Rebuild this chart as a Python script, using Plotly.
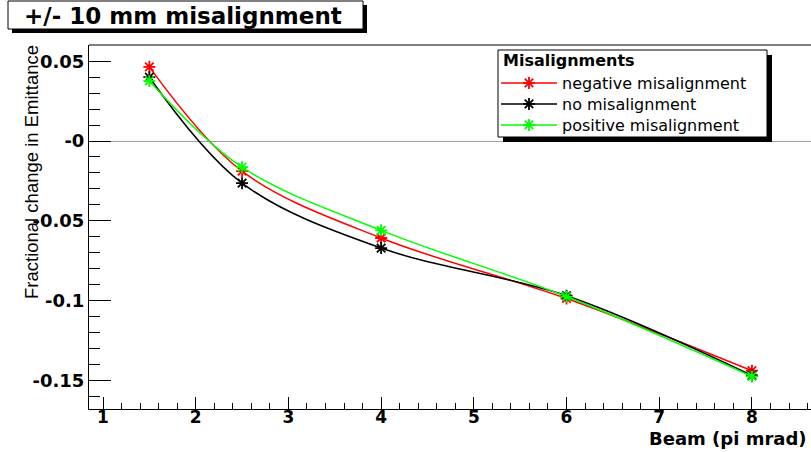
import plotly.graph_objects as go

# ---- data ----
beam = [1.5, 2.5, 4, 6, 8]
negative_mis = [0.0465, -0.0189, -0.0608, -0.0987, -0.1440]
no_mis = [0.0400, -0.0264, -0.0671, -0.0970, -0.1470]
positive_mis = [0.0377, -0.0164, -0.0560, -0.0975, -0.1476]
series_names = ["negative misalignment", "no misalignment", "positive misalignment"]
series_colors = ["#ff0000", "#000000", "#00ff00"]
y_tick_vals = [0.05, 0, -0.05, -0.1, -0.15]
y_tick_text = ["0.05", "-0", "-0.05", "-0.1", "-0.15"]
x_tick_vals = [1, 2, 3, 4, 5, 6, 7, 8]

W, H = 811, 452
L, R, T, B = 89, 0, 45, 43
PW, PH = W - L - R, H - T - B


def px(x):
    return (x - L) / PW


def py(y):
    return (H - B - y) / PH


legend_ids = ["legend", "legend2", "legend3"]
legend_rows = [83, 104, 125]

fig = go.Figure()
for name, ys, col, lg in zip(series_names, [negative_mis, no_mis, positive_mis], series_colors, legend_ids):
    fig.add_trace(go.Scatter(
        x=beam, y=ys, name=name, mode="lines+markers", legend=lg,
        line=dict(color=col, width=1.5, shape="spline", smoothing=1),
        marker=dict(symbol="asterisk", size=10, color=col, line=dict(color=col, width=1.8)),
    ))

layout_legends = {}
for lg, row in zip(legend_ids, legend_rows):
    layout_legends[lg] = dict(
        x=px(496), y=py(row), xanchor="left", yanchor="middle",
        bgcolor="rgba(0,0,0,0)", borderwidth=0,
        font=dict(family="DejaVu Sans", size=16, color="black"),
        itemwidth=56,
    )

fig.update_layout(
    width=W, height=H,
    margin=dict(l=L, r=R, t=T, b=B, pad=0, autoexpand=False),
    paper_bgcolor="white", plot_bgcolor="white",
    showlegend=True,
    xaxis=dict(
        range=[0.849, 8.637], showgrid=False, zeroline=False, automargin=False,
        showline=True, linecolor="black", linewidth=1,
        tickmode="array", tickvals=x_tick_vals,
        ticks="inside", ticklen=12, tickcolor="black", tickwidth=1,
        ticklabelstandoff=-7,
        tickfont=dict(family="DejaVu Sans", size=17, color="black", weight="bold"),
        minor=dict(ticks="inside", ticklen=6, dtick=0.2, tick0=1, tickcolor="black", showgrid=False),
    ),
    yaxis=dict(
        range=[-0.168, 0.0602], showgrid=False, automargin=False,
        zeroline=True, zerolinecolor="#a0a0a0", zerolinewidth=1,
        showline=True, linecolor="black", linewidth=1,
        tickmode="array", tickvals=y_tick_vals, ticktext=y_tick_text,
        ticks="inside", ticklen=22, tickcolor="black", tickwidth=1,
        tickfont=dict(family="DejaVu Sans", size=18, color="black", weight="bold"),
        minor=dict(ticks="inside", ticklen=11, dtick=0.01, tick0=0, tickcolor="black", showgrid=False),
    ),
    **layout_legends,
)

shapes = [
    # top frame line
    dict(type="line", xref="paper", yref="paper", x0=0, x1=1, y0=1, y1=1,
         line=dict(color="black", width=1)),
    # title box shadow + box
    dict(type="rect", xref="paper", yref="paper", x0=px(12), x1=px(367), y0=py(33), y1=py(5),
         fillcolor="black", line=dict(width=0)),
    dict(type="rect", xref="paper", yref="paper", x0=px(8), x1=px(363), y0=py(29), y1=py(1),
         fillcolor="white", line=dict(color="black", width=1)),
    # legend box shadow + box
    dict(type="rect", xref="paper", yref="paper", x0=px(503), x1=px(772), y0=py(142), y1=py(55),
         fillcolor="black", line=dict(width=0)),
    dict(type="rect", xref="paper", yref="paper", x0=px(498), x1=px(767), y0=py(137), y1=py(50),
         fillcolor="white", line=dict(color="black", width=1)),
]
fig.update_layout(shapes=shapes)

fig.add_annotation(text="<b>+/- 10 mm misalignment</b>", xref="paper", yref="paper",
                   x=px(183), y=py(16), xanchor="center", yanchor="middle", showarrow=False,
                   font=dict(family="DejaVu Sans", size=23, color="black"))
fig.add_annotation(text="<b>Misalignments</b>", xref="paper", yref="paper",
                   x=px(501), y=py(61), xanchor="left", yanchor="middle", showarrow=False,
                   font=dict(family="DejaVu Sans", size=16, color="black"))
fig.add_annotation(text="Fractional change in Emittance", xref="paper", yref="paper",
                   x=px(31), y=py(172), xanchor="center", yanchor="middle", textangle=-90,
                   showarrow=False,
                   font=dict(family="Liberation Sans", size=18.5, color="black"))
fig.add_annotation(text="<b>Beam (pi mrad)</b>", xref="paper", yref="paper",
                   x=px(809), y=py(438), xanchor="right", yanchor="middle", showarrow=False,
                   font=dict(family="DejaVu Sans", size=18, color="black"))

fig.write_html("out.html", config={"displayModeBar": False},
               post_script="document.body.style.margin='0';document.body.style.overflow='hidden';")
